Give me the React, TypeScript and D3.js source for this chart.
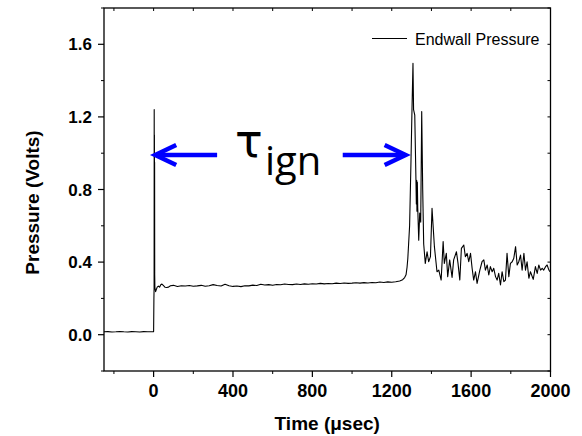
import React from 'react';
import * as d3 from 'd3';

// Endwall pressure trace (time in µs, pressure in volts)
const timeUs = [
  -250, -230, -210, -190, -170, -150, -130, -110, -90, -70, -50, -30, -10, -1,
  0, 1.5, 2.5, 3, 3.5, 4, 4.5, 5, 5.5, 6.5, 10, 14, 18, 24, 30, 36, 42, 50, 58, 66, 75, 85,
  100, 120, 140, 160, 180, 200, 220, 240, 260, 280, 300, 320, 340, 360, 380, 400, 420, 440, 460, 480,
  500, 520, 540, 560, 580, 600, 620, 640, 660, 680, 700, 720, 740, 760, 780, 800, 820, 840, 860, 880,
  900, 920, 940, 960, 980, 1000, 1020, 1040, 1060, 1080, 1100, 1120, 1140, 1160, 1180, 1200, 1220, 1240,
  1255, 1265, 1272, 1277, 1281, 1285, 1290, 1297, 1302, 1307, 1310, 1316, 1322, 1324, 1326, 1327, 1329,
  1331, 1336, 1341, 1346, 1351, 1356, 1361,
  1369, 1378, 1386, 1395, 1403, 1415, 1428, 1437, 1449, 1459, 1465, 1475, 1482, 1492, 1504, 1512, 1526,
  1534, 1543, 1551, 1563, 1571, 1580, 1588, 1597, 1605, 1613, 1622, 1630, 1644, 1655, 1664, 1672, 1681,
  1689, 1697, 1706, 1714, 1723, 1731, 1739, 1748, 1756, 1765, 1773, 1781, 1790, 1798, 1807, 1815, 1824,
  1832, 1840, 1849, 1857, 1866, 1874, 1882, 1891, 1899, 1913, 1924, 1933, 1941, 1950, 1958, 1966, 1975,
  1983, 1992, 1997,
];
const pressureV = [
  0.016, 0.017, 0.015, 0.016, 0.018, 0.016, 0.015, 0.017, 0.016, 0.015, 0.017, 0.016, 0.016, 0.017,
  0.017, 0.2, 0.26, 1.24, 0.34, 1.1, 0.35, 0.95, 0.33, 0.26, 0.237, 0.25, 0.262, 0.268, 0.262, 0.275, 0.279, 0.27, 0.261, 0.26, 0.262, 0.27,
  0.272, 0.266, 0.27, 0.268, 0.271, 0.267, 0.269, 0.272, 0.267, 0.27, 0.276, 0.271, 0.268, 0.278, 0.27, 0.266, 0.268, 0.265, 0.27, 0.269,
  0.273, 0.271, 0.278, 0.274, 0.276, 0.272, 0.277, 0.275, 0.279, 0.277, 0.276, 0.279, 0.277, 0.28, 0.278, 0.281, 0.279, 0.283, 0.28, 0.282,
  0.281, 0.284, 0.282, 0.285, 0.283, 0.284, 0.286, 0.284, 0.287, 0.285, 0.288, 0.286, 0.29, 0.288, 0.291, 0.289, 0.292, 0.296,
  0.303, 0.315, 0.33, 0.37, 0.42, 0.5, 0.6, 0.96, 1.24, 1.495, 1.24, 1.21, 0.85, 0.72, 0.85, 0.68, 0.84,
  0.7, 0.52, 0.67, 0.62, 1.23, 0.8, 0.5,
  0.393, 0.457, 0.402, 0.43, 0.696, 0.485, 0.347, 0.356, 0.301, 0.513, 0.393, 0.448, 0.32, 0.412, 0.316, 0.412, 0.457,
  0.393, 0.301, 0.476, 0.494, 0.43, 0.448, 0.402, 0.448, 0.366, 0.301, 0.347, 0.283, 0.356, 0.402, 0.412, 0.356, 0.384,
  0.329, 0.375, 0.347, 0.366, 0.32, 0.301, 0.338, 0.274, 0.347, 0.292, 0.301, 0.448, 0.32, 0.393, 0.402, 0.421, 0.485,
  0.384, 0.402, 0.439, 0.356, 0.448, 0.356, 0.402, 0.311, 0.347, 0.305, 0.375, 0.338, 0.384, 0.356, 0.366, 0.356, 0.375,
  0.384, 0.356, 0.347,
];

const xMajorTicks = [0, 400, 800, 1200, 1600, 2000];
const xMinorTicks = [-200, 200, 600, 1000, 1400, 1800];
const yMajorTicks = [0, 0.4, 0.8, 1.2, 1.6];
const yMinorTicks = [-0.2, 0.2, 0.6, 1.0, 1.4, 1.8];
const seriesName = 'Endwall Pressure';
const xTitle = 'Time (\u03bcsec)';
const yTitle = 'Pressure (Volts)';
// ignition-delay annotation (data coords)
const arrowLevel = 0.99;
const leftArrow = [320, 8];
const rightArrow = [953, 1270];

const FONT = 'Liberation Sans, Arial, Helvetica, sans-serif';

export default function App() {
  const W = 582;
  const H = 436;
  const L = 104, R = 550.5, T = 8, B = 371;
  const x = d3.scaleLinear().domain([-250, 2000]).range([L, R]);
  const y = d3.scaleLinear().domain([-0.2, 1.8]).range([B, T]);
  const data: [number, number][] = timeUs.map((t, i) => [t, pressureV[i]]);
  const line = d3.line<[number, number]>().x(d => x(d[0])).y(d => y(d[1]));
  const ay = y(arrowLevel);

  const arrow = (from: number, to: number) => {
    const x0 = x(from), x1 = x(to);
    const dir = x1 > x0 ? 1 : -1;
    const hx = x1 - dir * 21;
    return (
      <g stroke="#0000ff" strokeWidth={4.5} fill="none" strokeLinecap="butt">
        <line x1={x0} y1={ay} x2={x1 - dir * 1} y2={ay} />
        <polyline points={`${hx},${ay - 10} ${x1},${ay} ${hx},${ay + 10}`} strokeLinejoin="miter" />
      </g>
    );
  };

  return (
    <svg width={W} height={H} style={{ position: 'absolute', left: 0, top: 0, background: '#fff' }}>
      <rect x={0} y={0} width={W} height={H} fill="#fff" />
      {/* trace */}
      <path d={line(data) || ''} fill="none" stroke="#000" strokeWidth={1.1} strokeLinejoin="round" />
      {/* frame */}
      <rect x={L} y={T} width={R - L} height={B - T} fill="none" stroke="#000" strokeWidth={1.3} />
      {/* bottom ticks */}
      {xMajorTicks.map(t => (
        <g key={'xm' + t}>
          <line x1={x(t)} x2={x(t)} y1={B} y2={B + 6} stroke="#000" strokeWidth={1.2} />
          <line x1={x(t)} x2={x(t)} y1={T} y2={T + 3} stroke="#000" strokeWidth={1} />
          <text x={x(t)} y={397} textAnchor="middle" fontFamily={FONT} fontWeight="bold" fontSize={18}>{t}</text>
        </g>
      ))}
      {xMinorTicks.map(t => (
        <g key={'xn' + t}>
          <line x1={x(t)} x2={x(t)} y1={B} y2={B + 3} stroke="#000" strokeWidth={1} />
          <line x1={x(t)} x2={x(t)} y1={T} y2={T + 3} stroke="#000" strokeWidth={1} />
        </g>
      ))}
      {yMajorTicks.map(v => (
        <g key={'ym' + v}>
          <line x1={L - 6} x2={L} y1={y(v)} y2={y(v)} stroke="#000" strokeWidth={1.2} />
          <line x1={R - 3} x2={R} y1={y(v)} y2={y(v)} stroke="#000" strokeWidth={1} />
          <text x={92} y={y(v) + 6} textAnchor="end" fontFamily={FONT} fontWeight="bold" fontSize={17}>{v.toFixed(1)}</text>
        </g>
      ))}
      {yMinorTicks.map(v => (
        <g key={'yn' + v}>
          <line x1={L - 3} x2={L} y1={y(v)} y2={y(v)} stroke="#000" strokeWidth={1} />
          <line x1={R - 3} x2={R} y1={y(v)} y2={y(v)} stroke="#000" strokeWidth={1} />
        </g>
      ))}
      {/* axis titles */}
      <text x={(L + R) / 2} y={430} textAnchor="middle" fontFamily={FONT} fontWeight="bold" fontSize={19}>{xTitle}</text>
      <text transform={`translate(39,${(T + B) / 2 + 13}) rotate(-90)`} textAnchor="middle" fontFamily={FONT} fontWeight="bold" fontSize={19}>{yTitle}</text>
      {/* legend */}
      <line x1={372} x2={407} y1={38.5} y2={38.5} stroke="#000" strokeWidth={1} />
      <text x={415} y={45} fontFamily={FONT} fontSize={16}>{seriesName}</text>
      {/* annotation */}
      {arrow(leftArrow[0], leftArrow[1])}
      {arrow(rightArrow[0], rightArrow[1])}
      <text x={235} y={157} fontFamily="DejaVu Sans, sans-serif" fontSize={46}>{'\u03c4'}</text>
      <text x={265} y={175} fontFamily="Open Sans, Noto Sans, sans-serif" fontSize={40}>ign</text>
    </svg>
  );
}
